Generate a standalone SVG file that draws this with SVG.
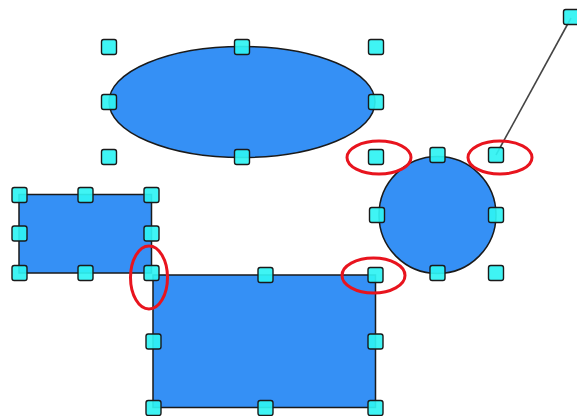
<svg xmlns="http://www.w3.org/2000/svg" width="577" height="416" viewBox="0 0 577 416">
<style>
.shape{fill:#3590f5;stroke:#1a1a1a;stroke-width:1.5}
.h{fill:#2ff3f3;fill-opacity:0.92;stroke:#1a1a1a;stroke-width:1.4}
.mark{fill:none;stroke:#e8141e;stroke-width:3}
</style>
<defs>
<rect id="hd" x="-7.5" y="-7.5" width="15" height="15" rx="2.2" class="h"/>
</defs>
<rect width="577" height="416" fill="#ffffff"/>
<g id="connectors">
<line x1="496" y1="155" x2="571" y2="18" stroke="#444" stroke-width="1.6"/>
</g>
<g id="ellipse">
<ellipse cx="242" cy="102" rx="133" ry="55.5" class="shape"/>
</g>
<g id="circle">
<circle cx="437.5" cy="215" r="58.5" class="shape"/>
</g>
<g id="small-rect">
<rect x="19" y="194.5" width="132.5" height="78.5" class="shape"/>
</g>
<g id="big-rect">
<rect x="153" y="275" width="222.5" height="132.5" class="shape"/>
</g>
<g id="handles">
<use href="#hd" x="109" y="47"/><use href="#hd" x="242" y="47"/><use href="#hd" x="376" y="47"/>
<use href="#hd" x="109" y="102"/><use href="#hd" x="376" y="102"/>
<use href="#hd" x="109" y="157"/><use href="#hd" x="242" y="157"/><use href="#hd" x="376" y="157"/>
<use href="#hd" x="437.5" y="155"/><use href="#hd" x="496" y="155"/>
<use href="#hd" x="377" y="215"/><use href="#hd" x="496" y="215"/>
<use href="#hd" x="437.5" y="273"/><use href="#hd" x="496" y="273"/>
<use href="#hd" x="571" y="17"/>
<use href="#hd" x="19.5" y="195"/><use href="#hd" x="85.5" y="195"/><use href="#hd" x="151.5" y="195"/>
<use href="#hd" x="19.5" y="233.5"/><use href="#hd" x="151.5" y="233.5"/>
<use href="#hd" x="19.5" y="273"/><use href="#hd" x="85.5" y="273"/><use href="#hd" x="151.5" y="273"/>
<use href="#hd" x="265.5" y="275"/><use href="#hd" x="375.5" y="275"/>
<use href="#hd" x="153.5" y="341.5"/><use href="#hd" x="375.5" y="341.5"/>
<use href="#hd" x="153.5" y="408"/><use href="#hd" x="265.5" y="408"/><use href="#hd" x="375.5" y="408"/>
</g>
<g id="highlights">
<ellipse cx="379" cy="157.5" rx="32" ry="16.5" class="mark"/>
<ellipse cx="500" cy="157.5" rx="32" ry="16.5" class="mark"/>
<ellipse cx="373.5" cy="275.5" rx="31.5" ry="17.5" class="mark"/>
<ellipse cx="149" cy="277.5" rx="18.5" ry="31.5" class="mark"/>
</g>
</svg>
